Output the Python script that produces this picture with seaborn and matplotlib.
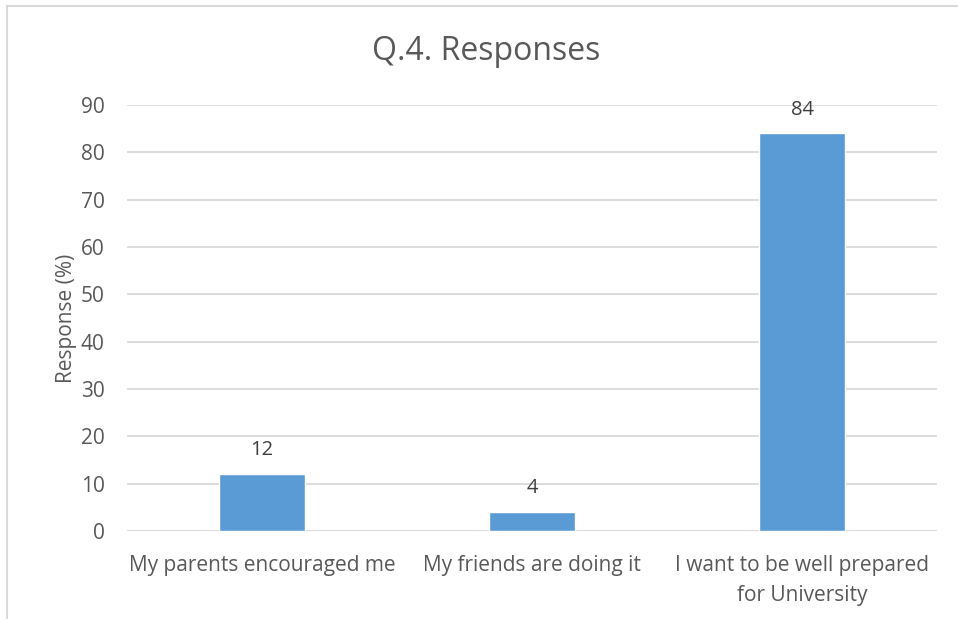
import matplotlib
matplotlib.use("Agg")
import matplotlib.pyplot as plt
from matplotlib.patches import Rectangle
import seaborn as sns
import pandas as pd

categories = ["My parents encouraged me", "My friends are doing it",
              "I want to be well prepared\nfor University"]
responses = [12, 4, 84]
yticks = [0, 10, 20, 30, 40, 50, 60, 70, 80, 90]

sns.set_theme(style="white")
plt.rcParams["font.family"] = ["Open Sans", "DejaVu Sans"]

TEXT = "#595959"
GRID = "#D9D9D9"
BAR = "#5B9BD5"

df = pd.DataFrame({"category": categories, "response": responses})

W, H = 958, 619
fig = plt.figure(figsize=(W / 100, H / 100), dpi=100)
ax = fig.add_axes([127 / W, 1 - 531 / H, (937 - 127) / W, (531 - 105) / H])

sns.barplot(data=df, x="category", y="response", color=BAR, width=0.315,
            saturation=1, ax=ax, zorder=3)

ax.set_ylim(0, 90)
ax.set_yticks(yticks)
ax.yaxis.grid(True, color=GRID, linewidth=1.3, zorder=0)
ax.set_axisbelow(True)
for s in ax.spines.values():
    s.set_visible(False)
ax.axhline(0, color=GRID, linewidth=1.3, zorder=1)

ax.tick_params(axis="both", length=0, labelsize=15, labelcolor=TEXT)
ax.tick_params(axis="y", pad=16)
ax.tick_params(axis="x", pad=17)
for lbl in ax.get_xticklabels():
    lbl.set_linespacing(1.6)
ax.set_xlabel("")
ax.set_ylabel("Response (%)", fontsize=15, color=TEXT, labelpad=3)

for p, v in zip(ax.patches, responses):
    ax.annotate(f"{v}", (p.get_x() + p.get_width() / 2, v),
                xytext=(0, 10), textcoords="offset points",
                ha="center", va="bottom", fontsize=14.5, color="#404040")

fig.text(486 / W, 1 - 51 / H, "Q.4. Responses", ha="center", va="center",
         fontsize=23, color=TEXT)

# outer chart frame
fig.patches.append(Rectangle((7 / W, -0.05), 1.2, 1 - 6 / H + 0.05,
                             transform=fig.transFigure, fill=False,
                             edgecolor=GRID, linewidth=1.5))

fig.savefig("out.png", dpi=100, facecolor="white")
